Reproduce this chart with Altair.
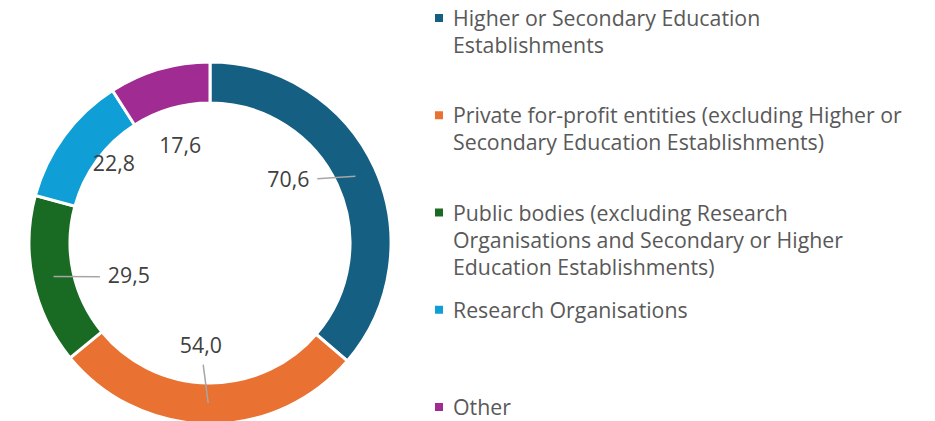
import altair as alt
import pandas as pd

# ---------------- data ----------------
categories = [
    "Higher or Secondary Education Establishments",
    "Private for-profit entities (excluding Higher or Secondary Education Establishments)",
    "Public bodies (excluding Research Organisations and Secondary or Higher Education Establishments)",
    "Research Organisations",
    "Other",
]
values = [70.6, 54.0, 29.5, 22.8, 17.6]
value_labels = ["70,6", "54,0", "29,5", "22,8", "17,6"]
legend_lines = [
    ["Higher or Secondary Education", "Establishments"],
    ["Private for-profit entities (excluding Higher or", "Secondary Education Establishments)"],
    ["Public bodies (excluding Research", "Organisations and Secondary or Higher", "Education Establishments)"],
    ["Research Organisations"],
    ["Other"],
]

# ---------------- style / layout ----------------
colors = ["#156082", "#E97132", "#196B24", "#0F9ED5", "#A02B93"]
FONT = "Open Sans"
FS = 21.3
CX, CY = 202, 235          # donut centre inside the plot area
R_OUT, R_IN, R_MID = 181, 140, 160
# label placement: radius from centre and angular nudge (deg) from slice middle
label_style = {
    "radius": [100, 104, 88, 124, 101],
    "shift": [-13.8, 4.4, -10.7, 2.8, -0.9],
    "leader": [True, True, True, False, False],
}
HW, HH = 29, 18            # label half box (for leader end)
LEG_SYM_X, LEG_TXT_X = 431, 445
LEG_RANGE = [10, 399]
LH = 27

df = pd.DataFrame({
    "idx": list(range(len(categories))),
    "category": categories,
    "value": values,
    "label": value_labels,
    "legend": ["\n".join(l) for l in legend_lines],
    "lr": label_style["radius"],
    "lshift": label_style["shift"],
    "leader": label_style["leader"],
})

color_scale = alt.Scale(domain=categories, range=colors)

arcs = alt.Chart(df).mark_arc(
    innerRadius=R_IN, outerRadius=R_OUT, stroke="white", strokeWidth=3
).encode(
    theta=alt.Theta("value:Q", stack=True),
    order=alt.Order("idx:Q"),
    color=alt.Color("category:N", scale=color_scale, legend=None),
    x=alt.value(CX),
    y=alt.value(CY),
)

geo = alt.Chart(df).transform_joinaggregate(
    total="sum(value)"
).transform_window(
    cum="sum(value)", sort=[alt.SortField("idx")], frame=[None, 0]
).transform_calculate(
    mid="(datum.cum - datum.value / 2) / datum.total * 2 * PI",
).transform_calculate(
    lth="datum.mid + datum.lshift * PI / 180",
    rx=f"{CX} + {R_MID} * sin(datum.mid)",
    ry=f"{CY} - {R_MID} * cos(datum.mid)",
).transform_calculate(
    lx=f"{CX} + datum.lr * sin(datum.lth)",
    ly=f"{CY} - datum.lr * cos(datum.lth)",
).transform_calculate(
    ddx="datum.rx - datum.lx",
    ddy="datum.ry - datum.ly",
).transform_calculate(
    t=f"min({HW} / max(abs(datum.ddx), 0.001), {HH} / max(abs(datum.ddy), 0.001))",
).transform_calculate(
    ex="datum.lx + datum.t * datum.ddx",
    ey="datum.ly + datum.t * datum.ddy",
)

labels = geo.mark_text(
    font=FONT, fontSize=FS, color="#404040", align="center", baseline="middle"
).encode(
    x=alt.X("lx:Q", scale=None, axis=None),
    y=alt.Y("ly:Q", scale=None, axis=None),
    text="label:N",
)

leaders = geo.transform_filter("datum.leader").mark_rule(
    color="#A6A6A6", strokeWidth=1.5
).encode(
    x=alt.X("ex:Q", scale=None, axis=None),
    y=alt.Y("ey:Q", scale=None, axis=None),
    x2="rx:Q",
    y2="ry:Q",
)

leg_y = alt.Y("idx:O", scale=alt.Scale(type="point", range=LEG_RANGE, padding=0), axis=None)

leg_sym = alt.Chart(df).mark_square(size=64, opacity=1, filled=True).encode(
    x=alt.value(LEG_SYM_X),
    y=leg_y,
    color=alt.Color("category:N", scale=color_scale, legend=None),
)

leg_txt = alt.Chart(df).mark_text(
    font=FONT, fontSize=FS, color="#595959", align="left", baseline="top",
    lineBreak="\n", lineHeight=LH, dy=-9,
).encode(
    x=alt.value(LEG_TXT_X),
    y=leg_y,
    text="legend:N",
)

chart = alt.layer(arcs, leaders, labels, leg_sym, leg_txt).properties(
    width=919, height=413, padding=0, autosize=alt.AutoSizeParams(type="none")
).configure_view(stroke=None)

chart.save("out.html", embed_options={"renderer": "svg", "actions": False})
